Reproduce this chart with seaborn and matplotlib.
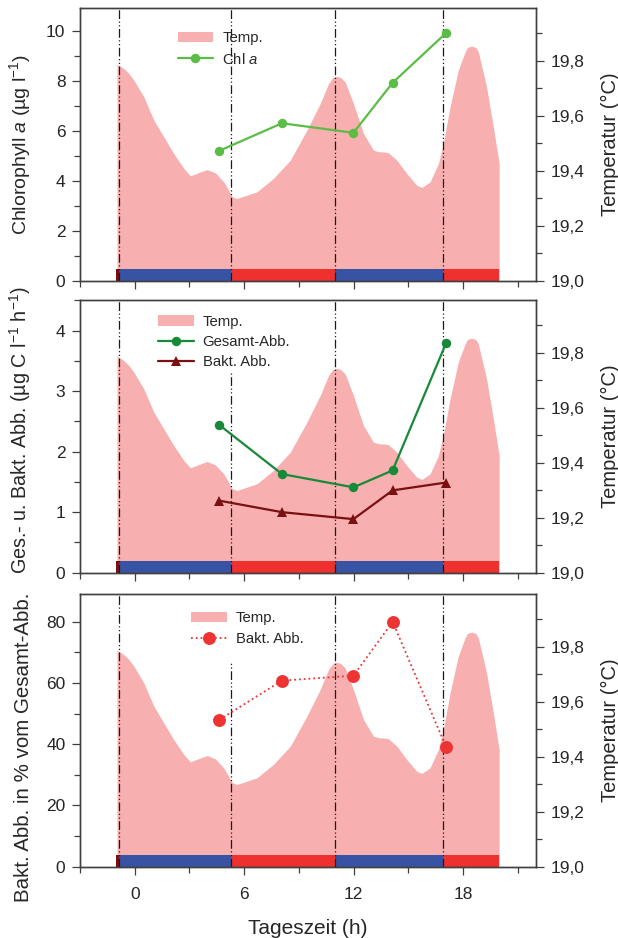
import matplotlib
matplotlib.use("Agg")
import matplotlib.pyplot as plt
from matplotlib.patches import Patch
from matplotlib.ticker import FuncFormatter, MultipleLocator
import seaborn as sns
import pandas as pd

# ---------------- data ----------------
temp_time = [-0.97, -0.6, -0.32, -0.05, 0.5, 0.77, 1.05, 1.59, 2.14, 2.69, 3.05, 3.51,
             3.97, 4.42, 4.88, 5.15, 5.34, 5.61, 6.16, 6.70, 7.61, 8.53, 9.44, 10.17,
             10.63, 10.86, 11.08, 11.30, 11.54, 11.99, 12.54, 13.09, 13.45, 13.64, 13.91,
             14.37, 14.91, 15.46, 15.74, 16.19, 16.65, 16.92, 17.29, 17.74, 18.11, 18.23,
             18.47, 18.71, 18.84, 19.29, 19.66, 19.98]
temp_vals = [19.787, 19.771, 19.753, 19.729, 19.668, 19.626, 19.583, 19.523, 19.462,
             19.408, 19.381, 19.393, 19.404, 19.392, 19.359, 19.329, 19.305, 19.299,
             19.311, 19.323, 19.372, 19.438, 19.547, 19.644, 19.717, 19.738, 19.743,
             19.738, 19.722, 19.644, 19.535, 19.474, 19.468, 19.468, 19.465, 19.438,
             19.390, 19.347, 19.339, 19.359, 19.426, 19.499, 19.632, 19.765, 19.831,
             19.847, 19.853, 19.847, 19.831, 19.704, 19.559, 19.426]

sample_time = [4.64, 8.07, 11.99, 14.14, 17.08]
chl_a = [5.2, 6.3, 5.92, 7.92, 9.92]
gesamt_abb = [2.44, 1.63, 1.41, 1.69, 3.80]
bakt_abb = [1.19, 1.00, 0.885, 1.36, 1.49]
bakt_pct = [48.0, 60.8, 62.4, 80.0, 39.0]

# light / dark phases (h)
phase_edges = [-1.0, -0.88, 5.26, 10.98, 16.92, 19.98]
phase_colors = ["#7a0f12", "#3953a4", "#ee312e", "#3953a4", "#ee312e"]
divider_times = [-0.88, 5.26, 10.98, 16.92]

x_ticks = [0, 6, 12, 18]
temp_ticks = [19.0, 19.2, 19.4, 19.6, 19.8]

# ---------------- style ----------------
sns.set_style("ticks")
plt.rcParams["font.family"] = ["Liberation Sans", "DejaVu Sans"]
plt.rcParams["mathtext.fontset"] = "custom"
plt.rcParams["mathtext.rm"] = "Liberation Sans"
plt.rcParams["mathtext.it"] = "Liberation Sans:italic"
plt.rcParams["mathtext.bf"] = "Liberation Sans:bold"

TXT = "#262626"
SPINE = "#404040"
PINK = "#f7afaf"

fig = plt.figure(figsize=(6.18, 9.38), dpi=100)
left, width, height = 80 / 618, 456 / 618, 0.2904
bottoms = [1 - 280.7 / 938, 1 - 572.7 / 938, 1 - 866.7 / 938]

temp_df = pd.DataFrame({"t": temp_time, "T": temp_vals})


def make_panel(bottom, ylim, major, minor, ylabel, lab_size, lab_y, show_x, div_tops):
    ax = fig.add_axes([left, bottom, width, height])
    ax2 = ax.twinx()
    ax.set_zorder(ax2.get_zorder() + 1)
    ax.patch.set_visible(False)

    ax2.fill_between(temp_df["t"], 19.0, temp_df["T"], color=PINK, lw=0, zorder=1)
    for i, c in enumerate(phase_colors):
        ax2.axvspan(phase_edges[i], phase_edges[i + 1], ymin=0, ymax=0.044,
                    color=c, lw=0, zorder=2)
    for t, top in zip(divider_times, div_tops):
        ax2.axvline(t, ymin=0.0, ymax=top, color="#1a1a1a", lw=0.9,
                    ls=(0, (7, 2, 1, 2, 1, 2)), zorder=3)

    ax.set_xlim(-3, 22)
    ax.set_ylim(*ylim)
    ax2.set_ylim(19.0, 19.99)
    ax.set_xticks(x_ticks)
    ax.xaxis.set_minor_locator(MultipleLocator(3))
    ax.yaxis.set_major_locator(MultipleLocator(major))
    ax.yaxis.set_minor_locator(MultipleLocator(minor))
    ax2.set_yticks(temp_ticks)
    ax2.yaxis.set_minor_locator(MultipleLocator(0.1))
    ax2.yaxis.set_major_formatter(FuncFormatter(lambda v, p: f"{v:.1f}".replace(".", ",")))

    for a in (ax, ax2):
        for s in a.spines.values():
            s.set_color(SPINE)
            s.set_linewidth(1.0)
        a.tick_params(which="major", length=5.5, width=0.9, color=SPINE,
                      labelsize=12.5, labelcolor=TXT, direction="out")
        a.tick_params(which="minor", length=4, width=0.9, color=SPINE, direction="out")
    ax.tick_params(axis="y", pad=5)
    ax2.tick_params(axis="y", pad=5)
    ax.tick_params(axis="x", pad=9)
    if not show_x:
        ax.tick_params(axis="x", labelbottom=False)

    ax.set_ylabel(ylabel, fontsize=lab_size, color=TXT)
    ax.yaxis.set_label_coords(-0.103, lab_y)
    ax2.set_ylabel("Temperatur (°C)", fontsize=14.5, color=TXT)
    ax2.yaxis.set_label_coords(1.142, 0.5)
    return ax, ax2


def add_legend(ax, handles, labels, anchor):
    ax.legend(handles, labels, loc="upper left", bbox_to_anchor=anchor,
              frameon=False, fontsize=10.7, handlelength=2.4, handleheight=0.7,
              handletextpad=0.6, labelspacing=0.42, borderpad=0, borderaxespad=0,
              labelcolor=TXT)


temp_patch = Patch(facecolor=PINK, edgecolor="none")

# ---- panel 1 ----
ax, ax2 = make_panel(bottoms[0], (0, 10.9), 2, 1,
                     r"Chlorophyll $\mathit{a}$ (µg l$^{\mathrm{-1}}$)", 14.0, 0.5, False,
                     [1, 1, 1, 1])
df1 = pd.DataFrame({"t": sample_time, "v": chl_a})
sns.lineplot(data=df1, x="t", y="v", ax=ax, color="#5bbd45", lw=1.6, marker="o",
             markersize=6.8, markeredgewidth=0, label="Chl a")
h, _ = ax.get_legend_handles_labels()
add_legend(ax, [temp_patch] + h, ["Temp.", r"Chl $\mathit{a}$"], (0.214, 0.915))
ax.set_xlabel("")

# ---- panel 2 ----
ax, ax2 = make_panel(bottoms[1], (0, 4.5), 1, 0.5,
                     r"Ges.- u. Bakt. Abb. (µg C l$^{\mathrm{-1}}$ h$^{\mathrm{-1}}$)", 14.2,
                     0.522, False, [1, 0.737, 1, 1])
df2 = pd.DataFrame({"t": sample_time, "g": gesamt_abb, "b": bakt_abb})
sns.lineplot(data=df2, x="t", y="g", ax=ax, color="#178a3a", lw=1.6, marker="o",
             markersize=6.8, markeredgewidth=0, label="Gesamt-Abb.")
sns.lineplot(data=df2, x="t", y="b", ax=ax, color="#7a1012", lw=1.6, marker="^",
             markersize=7, markeredgewidth=0, label="Bakt. Abb.")
h, l = ax.get_legend_handles_labels()
add_legend(ax, [temp_patch] + h, ["Temp."] + l, (0.171, 0.947))
ax.set_xlabel("")

# ---- panel 3 ----
ax, ax2 = make_panel(bottoms[2], (0, 89), 20, 10,
                     "Bakt. Abb. in % vom Gesamt-Abb.", 14.8, 0.437, True,
                     [1, 0.748, 1, 1])
df3 = pd.DataFrame({"t": sample_time, "p": bakt_pct})
sns.lineplot(data=df3, x="t", y="p", ax=ax, color="#ee3333", lw=1.3, ls=":",
             marker="o", markersize=9.3, markeredgewidth=0, label="Bakt. Abb.")
h, l = ax.get_legend_handles_labels()
add_legend(ax, [temp_patch] + h, ["Temp."] + l, (0.244, 0.937))
ax.set_xlabel("Tageszeit (h)", fontsize=15, color=TXT, labelpad=12)

fig.savefig("out.png", dpi=100)
